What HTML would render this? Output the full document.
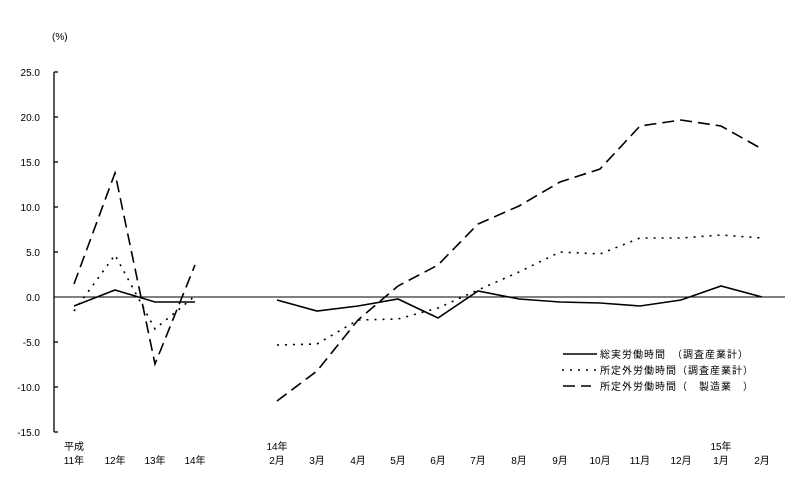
<!DOCTYPE html>
<html><head><meta charset="utf-8"><style>
body{margin:0;background:#fff;}
svg text{font-family:"Liberation Sans","Noto Sans CJK JP",sans-serif;font-size:10px;fill:#000;}
</style></head><body>
<svg width="810" height="480" viewBox="0 0 810 480" xmlns="http://www.w3.org/2000/svg">
<text x="52" y="40">(%)</text>
<g text-anchor="end">
<text x="40" y="76">25.0</text><text x="40" y="121">20.0</text><text x="40" y="166">15.0</text>
<text x="40" y="211">10.0</text><text x="40" y="256">5.0</text><text x="40" y="301">0.0</text>
<text x="40" y="346">-5.0</text><text x="40" y="391">-10.0</text><text x="40" y="436">-15.0</text>
</g>
<g stroke="#000" stroke-width="1.3" fill="none">
<line x1="54" y1="72" x2="54" y2="432"/>
<line x1="54" y1="72" x2="58" y2="72"/><line x1="54" y1="117" x2="58" y2="117"/><line x1="54" y1="162" x2="58" y2="162"/>
<line x1="54" y1="207" x2="58" y2="207"/><line x1="54" y1="252" x2="58" y2="252"/><line x1="54" y1="342" x2="58" y2="342"/>
<line x1="54" y1="387" x2="58" y2="387"/><line x1="54" y1="432" x2="58" y2="432"/>
<line x1="54" y1="297" x2="785" y2="297" stroke-width="1"/>
</g>
<g fill="none" stroke="#000" stroke-width="1.6">
<polyline points="74,306 115,290 155,302 195,302"/>
<polyline points="277,300 317,311 358,306 398,299 438,318 478,291 519,299 560,302 600,303 640,306 681,300 721,286 762,297"/>
<polyline stroke-dasharray="2,6" points="74,311 115,255 155,329 195,296"/>
<polyline stroke-dasharray="2,6" points="277,345 317,344 358,320 398,319 438,308 478,290 519,272 560,252 600,254 640,238 681,238 721,235 762,238"/>
<polyline stroke-dasharray="12,6" points="74,284 115,173 155,364 195,265"/>
<polyline stroke-dasharray="12,6" points="277,401 317,371 358,320 398,286 438,265 478,224 519,206 560,182 600,169 640,126 681,120 721,126 762,149"/>
<line x1="563" y1="354" x2="597" y2="354"/>
<line x1="562" y1="370" x2="597" y2="370" stroke-dasharray="2,6"/>
<line x1="563" y1="386" x2="591" y2="386" stroke-dasharray="12,6"/>
</g>
<g font-size="11" letter-spacing="1">
<text x="600" y="358">総実労働時間　（調査産業計）</text>
<text x="600" y="374">所定外労働時間（調査産業計）</text>
<text x="600" y="390">所定外労働時間（　製造業　）</text>
</g>
<g text-anchor="middle">
<text x="74" y="450">平成</text><text x="74" y="464">11年</text>
<text x="115" y="464">12年</text><text x="155" y="464">13年</text><text x="195" y="464">14年</text>
<text x="277" y="450">14年</text><text x="277" y="464">2月</text>
<text x="317" y="464">3月</text><text x="358" y="464">4月</text><text x="398" y="464">5月</text>
<text x="438" y="464">6月</text><text x="478" y="464">7月</text><text x="519" y="464">8月</text>
<text x="560" y="464">9月</text><text x="600" y="464">10月</text><text x="640" y="464">11月</text>
<text x="681" y="464">12月</text><text x="721" y="450">15年</text><text x="721" y="464">1月</text>
<text x="762" y="464">2月</text>
</g>
</svg>
</body></html>
